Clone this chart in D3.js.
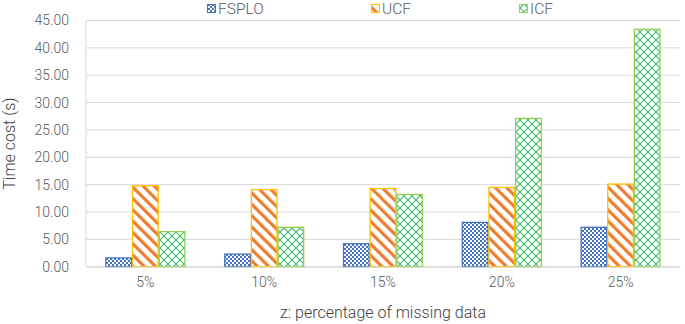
<!DOCTYPE html>
<html><head><meta charset="utf-8">
<script src="https://cdn.jsdelivr.net/npm/d3@7"></script>
<style>body{margin:0;background:#fff;} svg{display:block;font-family:Roboto,"Liberation Sans",sans-serif;}</style>
</head><body><svg id="c" width="685" height="324"></svg>
<script>
const categories = ["5%","10%","15%","20%","25%"];
const seriesNames = ["FSPLO","UCF","ICF"];
const fsplo = [1.6, 2.3, 4.2, 8.1, 7.2];
const ucf = [14.8, 14.1, 14.3, 14.5, 15.1];
const icf = [6.4, 7.2, 13.2, 27.1, 43.4];
const yTicks = [0,5,10,15,20,25,30,35,40,45];

const series = [fsplo, ucf, icf];
const svg = d3.select("#c");
const m = {l:86, r:5, t:20.5, b:57.3};
const W = 685, H = 324;
const x = d3.scaleBand().domain(categories).range([m.l, W-m.r]).paddingInner(0.327).paddingOuter(0.1635);
const x1 = d3.scaleBand().domain(seriesNames).range([0, x.bandwidth()]);
const y = d3.scaleLinear().domain([0,45]).range([H-m.b, m.t]);

const defs = svg.append("defs");
const p1 = defs.append("pattern").attr("id","pF").attr("patternUnits","userSpaceOnUse").attr("width",4).attr("height",4);
p1.append("rect").attr("width",4).attr("height",4).attr("fill","#fff");
p1.append("rect").attr("width",2).attr("height",2).attr("fill","#4472C4");
p1.append("rect").attr("x",2).attr("y",2).attr("width",2).attr("height",2).attr("fill","#4472C4");
const p2 = defs.append("pattern").attr("id","pU").attr("patternUnits","userSpaceOnUse").attr("width",8).attr("height",8).attr("patternTransform","rotate(-45)");
p2.append("rect").attr("width",8).attr("height",8).attr("fill","#fff");
p2.append("rect").attr("width",3.2).attr("height",8).attr("fill","#ED7D31");
const p3 = defs.append("pattern").attr("id","pI").attr("patternUnits","userSpaceOnUse").attr("width",8).attr("height",8);
p3.append("rect").attr("width",8).attr("height",8).attr("fill","#fff");
p3.append("path").attr("d","M0,0L8,8M8,0L0,8").attr("stroke","#3DB86A").attr("stroke-width",1.1);
const fills = ["url(#pF)","url(#pU)","url(#pI)"];
const strokes = ["#4472C4","#FFC000","#92D050"];

svg.append("g").selectAll("line").data(yTicks).join("line")
  .attr("x1",m.l).attr("x2",W-m.r).attr("y1",d=>y(d)).attr("y2",d=>y(d))
  .attr("stroke","#D9D9D9").attr("stroke-width",1);
svg.append("line").attr("x1",m.l).attr("x2",m.l).attr("y1",y(45)).attr("y2",y(0)).attr("stroke","#D9D9D9");

const ya = svg.append("g").attr("transform",`translate(${m.l},0)`).call(d3.axisLeft(y).tickValues(yTicks).tickFormat(d3.format(".2f")).tickSize(0).tickPadding(17));
ya.select(".domain").remove();
ya.selectAll("text").attr("fill","#595959").style("font-size","14px").style("font-weight","300").style("font-family","Roboto,'Liberation Sans',sans-serif");

const g = svg.append("g");
categories.forEach((c,i)=>{
  series.forEach((s,j)=>{
    g.append("rect")
      .attr("x", x(c)+x1(seriesNames[j])+0.5)
      .attr("y", y(s[i]))
      .attr("width", x1.bandwidth()-1)
      .attr("height", y(0)-y(s[i]))
      .attr("fill", fills[j]).attr("stroke", strokes[j]).attr("stroke-width",1.3);
  });
});

const xa = svg.append("g").attr("transform",`translate(0,${y(0)})`).call(d3.axisBottom(x).tickSize(0).tickPadding(10));
xa.select(".domain").attr("stroke","#D9D9D9");
xa.selectAll("text").attr("fill","#595959").style("font-size","14px").style("font-weight","300").style("font-family","Roboto,'Liberation Sans',sans-serif");

svg.append("text").attr("transform",`translate(15,${(y(0)+y(45))/2}) rotate(-90)`).attr("text-anchor","middle")
  .attr("fill","#404040").style("font-size","16px").style("font-weight","300").text("Time cost (s)");
svg.append("text").attr("x",(m.l+W-m.r)/2).attr("y",318).attr("text-anchor","middle")
  .attr("fill","#404040").style("font-size","16px").style("font-weight","300").text("z: percentage of missing data");

const legX = [207, 371, 519];
const lg = svg.append("g");
seriesNames.forEach((n,j)=>{
  lg.append("rect").attr("x",legX[j]+0.5).attr("y",4.5).attr("width",8).attr("height",8)
    .attr("fill",fills[j]).attr("stroke",strokes[j]).attr("stroke-width",1);
  lg.append("text").attr("x",legX[j]+11).attr("y",13.5).attr("fill","#595959").style("font-size","15.5px").style("font-weight","300").text(n);
});
</script></body></html>
